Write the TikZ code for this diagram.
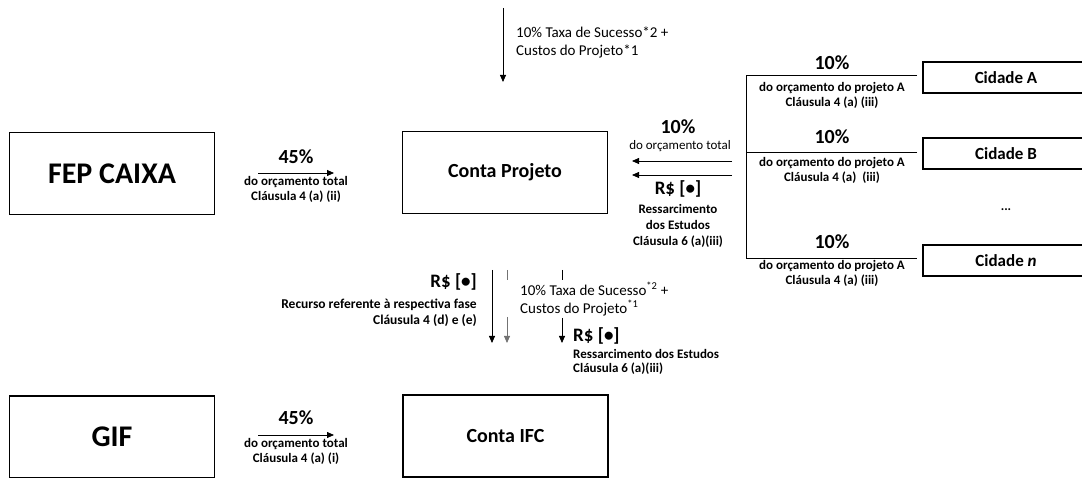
\documentclass[tikz,border=0pt]{standalone}
\usepackage{fontspec}
\setmainfont{Carlito}
\usetikzlibrary{arrows.meta, positioning}

\tikzset{
  conta/.style={draw, line width=1.2pt, minimum width=205pt, minimum height=82pt, inner sep=0pt, font=\bfseries\fontsize{20}{24}\selectfont},
  fonte/.style={conta, font=\bfseries\fontsize{30}{34}\selectfont},
  cidade/.style={draw, line width=1.1pt, minimum width=166pt, minimum height=31pt, inner sep=0pt, font=\bfseries\fontsize{17}{20}\selectfont},
  pct/.style={font=\bfseries\fontsize{20}{22}\selectfont, inner sep=0pt},
  valor/.style={font=\bfseries\fontsize{19}{22}\selectfont, inner sep=0pt},
  nota/.style={font=\bfseries\fontsize{13}{15}\selectfont, align=center, inner sep=0pt},
  taxa/.style={font=\fontsize{15}{18}\selectfont, align=left, inner sep=0pt},
  fluxo/.style={line width=0.8pt, -{Triangle[length=7pt,width=6pt]}},
  linha/.style={line width=0.8pt},
}

\begin{document}
\begin{tikzpicture}[x=1pt, y=-1pt]
  \useasboundingbox (0,0) rectangle (1082,478);
  \clip (0,0) rectangle (1082,478);

  % caixas principais
  \node[fonte] (fep) at (112,173.5) {FEP CAIXA};
  \node[conta] (projeto) at (505,172.5) {Conta Projeto};
  \node[fonte] (gif) at (112,437) {GIF};
  \node[conta] (ifc) at (505.5,436) {Conta IFC};

  % cidades
  \node[cidade] (cidA) at (1006,77.5) {Cidade A};
  \node[cidade] (cidB) at (1006,153.5) {Cidade B};
  \node[font=\bfseries\fontsize{13}{15}\selectfont] (pontos) at (1006,210) {...};
  \node[cidade] (cidN) at (1006,260.5) {Cidade \textit{n}};

  % entrada superior
  \coordinate (topo) at (503,8);
  \coordinate (topoFim) at (503,82);
  \draw[fluxo] (topo) -- (topoFim);
  \node[taxa, anchor=west] (taxaTopo) at (516,42) {10\% Taxa de Sucesso*2 +\\Custos do Projeto*1};

  % FEP CAIXA -> Conta Projeto
  \coordinate (fepIni) at (258,173);
  \coordinate (fepFim) at (334,173);
  \draw[fluxo] (fepIni) -- (fepFim);
  \node[pct] (pctFep) at (296,157) {45\%};
  \node[nota] (notaFep) at (296,189) {do orçamento total\\Cláusula 4 (a) (ii)};

  % GIF -> Conta IFC
  \coordinate (gifIni) at (258,435);
  \coordinate (gifFim) at (334,435);
  \draw[fluxo] (gifIni) -- (gifFim);
  \node[pct] (pctGif) at (296,418) {45\%};
  \node[nota] (notaGif) at (296,451) {do orçamento total\\Cláusula 4 (a) (i)};

  % retorno das cidades
  \coordinate (volta1) at (732,161);
  \coordinate (volta1Fim) at (632,161);
  \coordinate (volta2) at (732,175);
  \coordinate (volta2Fim) at (632,175);
  \draw[fluxo] (volta1) -- (volta1Fim);
  \draw[fluxo] (volta2) -- (volta2Fim);
  \node[pct] (pctTotal) at (678,127) {10\%};
  \node[nota, font=\fontsize{13}{15}\selectfont] (notaTotal) at (680,146) {do orçamento total};
  \node[valor] (rsVolta) at (678,189) {R\$ [\textbullet]};
  \node[nota, font=\bfseries\fontsize{13}{16}\selectfont] (notaVolta) at (678,226) {Ressarcimento\\dos Estudos\\Cláusula 6 (a)(iii)};

  % ramos das cidades
  \coordinate (ramoA) at (917,75);
  \coordinate (ramoB) at (917,152);
  \coordinate (ramoN) at (917,258);
  \coordinate (tronco) at (746,258);
  \draw[linha] (ramoA) -| (tronco) -- (ramoN);
  \draw[linha] (ramoB) -- (ramoB -| tronco);
  \node[pct] (pctA) at (832,63) {10\%};
  \node[nota] (notaA) at (832,95) {do orçamento do projeto A\\Cláusula 4 (a) (iii)};
  \node[pct] (pctB) at (832,137) {10\%};
  \node[nota] (notaB) at (832,170) {do orçamento do projeto A\\Cláusula 4 (a)\ \ (iii)};
  \node[pct] (pctN) at (832,242) {10\%};
  \node[nota] (notaN) at (832,273) {do orçamento do projeto A\\Cláusula 4 (a) (iii)};

  % saidas da Conta Projeto
  \coordinate (saida1) at (492,270);
  \coordinate (saida1Fim) at (492,343);
  \draw[fluxo] (saida1) -- (saida1Fim);
  \coordinate (saida2) at (507,270);
  \coordinate (saida2Corte) at (507,280);
  \coordinate (saida2Volta) at (507,317);
  \coordinate (saida2Fim) at (507,343);
  \draw[linha, black!55] (saida2) -- (saida2Corte);
  \draw[fluxo, black!55] (saida2Volta) -- (saida2Fim);
  \coordinate (saida3) at (562,270);
  \coordinate (saida3Corte) at (562,280);
  \coordinate (saida3Volta) at (562,318);
  \coordinate (saida3Fim) at (562,343);
  \draw[linha] (saida3) -- (saida3Corte);
  \draw[fluxo] (saida3Volta) -- (saida3Fim);

  \node[valor, anchor=east] (rsFase) at (477,282) {R\$ [\textbullet]};
  \node[nota, align=right, anchor=east, font=\bfseries\fontsize{13.5}{16}\selectfont] (notaFase) at (477,313) {Recurso referente à respectiva fase\\Cláusula 4 (d) e (e)};
  \node[taxa, anchor=west] (taxaBaixo) at (520,299) {10\% Taxa de Sucesso\textsuperscript{*2} +\\Custos do Projeto\textsuperscript{*1}};
  \node[valor, anchor=west] (rsEstudos) at (573,336) {R\$ [\textbullet]};
  \node[nota, align=left, anchor=west, font=\bfseries\fontsize{13}{14}\selectfont] (notaEstudos) at (573,362) {Ressarcimento dos Estudos\\Cláusula 6 (a)(iii)};
\end{tikzpicture}
\end{document}
